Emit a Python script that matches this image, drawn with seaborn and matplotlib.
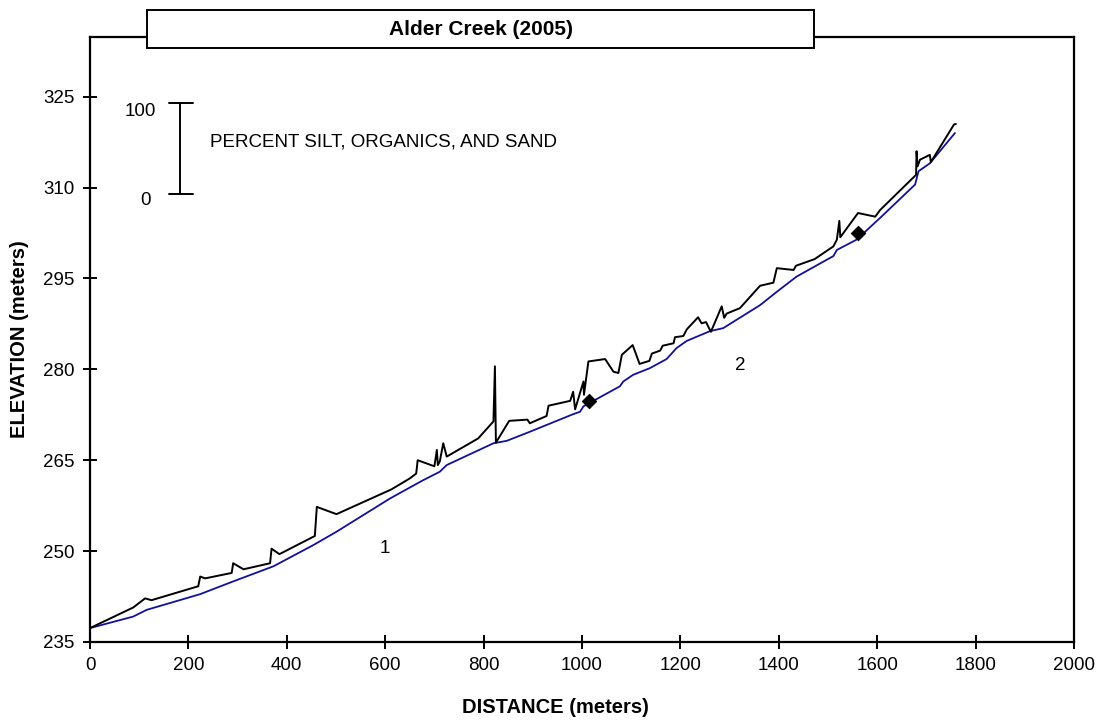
import matplotlib
matplotlib.use('Agg')
import matplotlib.pyplot as plt
import seaborn as sns
import pandas as pd
from matplotlib.patches import Rectangle

# perfil del lecho (linea azul)
bed_dist = [0, 88, 115, 224, 291, 373, 454, 501, 610, 677, 711, 725, 820, 847,
            894, 982, 996, 1003, 1077, 1084, 1104, 1138, 1172, 1192, 1213, 1260,
            1287, 1362, 1396, 1436, 1511, 1518, 1558, 1606, 1677, 1684, 1707, 1758]
bed_elev = [237.3, 239.2, 240.3, 242.9, 245.0, 247.5, 251.0, 253.2, 258.7, 261.7,
            263.1, 264.2, 267.8, 268.2, 269.7, 272.6, 273.0, 273.9, 277.2, 278.0,
            279.1, 280.2, 281.7, 283.5, 284.7, 286.3, 286.8, 290.6, 292.8, 295.3,
            298.7, 299.7, 301.4, 305.0, 310.5, 312.7, 314.0, 319.0]

# superficie (linea negra)
surf_dist = [0, 88, 112, 125, 220, 224, 234, 288, 291, 312, 366, 369, 385, 457,
             461, 501, 613, 650, 663, 666, 700, 705, 707, 711, 718, 725, 789, 820,
             823, 825, 852, 889, 894, 928, 932, 976, 982, 986, 1003, 1004, 1013,
             1047, 1064, 1074, 1081, 1103, 1117, 1137, 1142, 1159, 1164, 1186,
             1189, 1206, 1213, 1236, 1243, 1252, 1262, 1284, 1289, 1294, 1321,
             1362, 1389, 1396, 1430, 1435, 1473, 1511, 1518, 1523, 1525, 1561,
             1596, 1606, 1679, 1680, 1682, 1687, 1707, 1709, 1756, 1760]
surf_elev = [237.3, 240.7, 242.2, 241.9, 244.2, 245.8, 245.5, 246.4, 248.0, 247.0,
             248.0, 250.4, 249.5, 252.5, 257.3, 256.1, 260.2, 262.0, 262.8, 265.0,
             264.0, 266.7, 264.2, 264.8, 267.8, 265.6, 268.6, 271.4, 280.5, 267.9,
             271.5, 271.7, 271.1, 272.3, 274.0, 274.8, 276.3, 273.4, 278.0, 275.8,
             281.3, 281.7, 279.6, 279.4, 282.4, 284.0, 280.9, 281.4, 282.6, 283.1,
             283.9, 284.3, 285.3, 285.5, 286.6, 288.6, 287.6, 287.8, 286.2, 290.4,
             288.5, 289.2, 290.1, 293.8, 294.3, 296.7, 296.4, 297.1, 298.2, 300.3,
             301.4, 304.5, 301.8, 305.8, 305.2, 306.3, 312.1, 316.0, 313.5, 314.6,
             315.4, 314.2, 320.4, 320.5]

# puntos de muestreo (diamantes)
sample_dist = [1015, 1561]
sample_elev = [274.8, 302.5]

# etiquetas de tramo
reach_labels = ['1', '2']
reach_dist = [600, 1321]
reach_elev = [250.5, 280.6]

x_ticks = list(range(0, 2001, 200))
y_ticks = list(range(235, 326, 15))

sns.set_style('white')
plt.rcParams['font.family'] = ['Liberation Sans', 'DejaVu Sans']
plt.rcParams['text.color'] = 'black'
plt.rcParams['axes.labelcolor'] = 'black'
plt.rcParams['xtick.color'] = 'black'
plt.rcParams['ytick.color'] = 'black'

bed = pd.DataFrame({'dist': bed_dist, 'elev': bed_elev})
surf = pd.DataFrame({'dist': surf_dist, 'elev': surf_elev})
samples = pd.DataFrame({'dist': sample_dist, 'elev': sample_elev})

fig = plt.figure(figsize=(11, 7.24), dpi=100)
ax = fig.add_axes([90 / 1100, 1 - 642 / 724, 984 / 1100, 605.3 / 724])

sns.lineplot(data=bed, x='dist', y='elev', sort=False, color='#10109a',
             linewidth=1.3, ax=ax)
sns.lineplot(data=surf, x='dist', y='elev', sort=False, color='black',
             linewidth=1.4, ax=ax)
sns.scatterplot(data=samples, x='dist', y='elev', marker='D', color='black',
                s=55, edgecolor='black', zorder=5, ax=ax)

for lab, d, e in zip(reach_labels, reach_dist, reach_elev):
    ax.text(d, e, lab, fontsize=13.5, ha='center', va='center')

# barra de escala del porcentaje
ax.plot([183, 183], [309, 324], color='black', lw=1.4)
ax.plot([161, 209], [324, 324], color='black', lw=1.4)
ax.plot([161, 209], [309, 309], color='black', lw=1.4)
ax.text(134, 322.6, '100', fontsize=13.5, ha='right', va='center')
ax.text(124, 307.8, '0', fontsize=13.5, ha='right', va='center')
ax.text(244, 317.6, 'PERCENT SILT, ORGANICS, AND SAND', fontsize=13.5,
        ha='left', va='center')

ax.set_xlim(0, 2000)
ax.set_ylim(235, 334.9)
ax.set_xticks(x_ticks)
ax.set_yticks(y_ticks)
ax.tick_params(direction='inout', length=10, width=1.4, labelsize=13.5,
               bottom=True, left=True, pad=6)
for s in ax.spines.values():
    s.set_color('black')
    s.set_linewidth(1.6)

ax.set_xlabel('DISTANCE (meters)', fontsize=14.5, fontweight='bold')
ax.set_ylabel('ELEVATION (meters)', fontsize=14.5, fontweight='bold', labelpad=10)
ax.xaxis.set_label_coords((555 - 90) / 984, -0.092)

# caja del titulo
ax.add_patch(Rectangle((0.0579, 0.9813), 0.6779, 0.0628, transform=ax.transAxes,
                       facecolor='white', edgecolor='black', lw=1.4,
                       clip_on=False, zorder=10))
ax.text(0.0579 + 0.6779 / 2, 0.9813 + 0.0314, 'Alder Creek (2005)',
        transform=ax.transAxes, ha='center', va='center', fontsize=15,
        fontweight='bold', zorder=11)

fig.savefig('out.png', dpi=100)
plt.close()
